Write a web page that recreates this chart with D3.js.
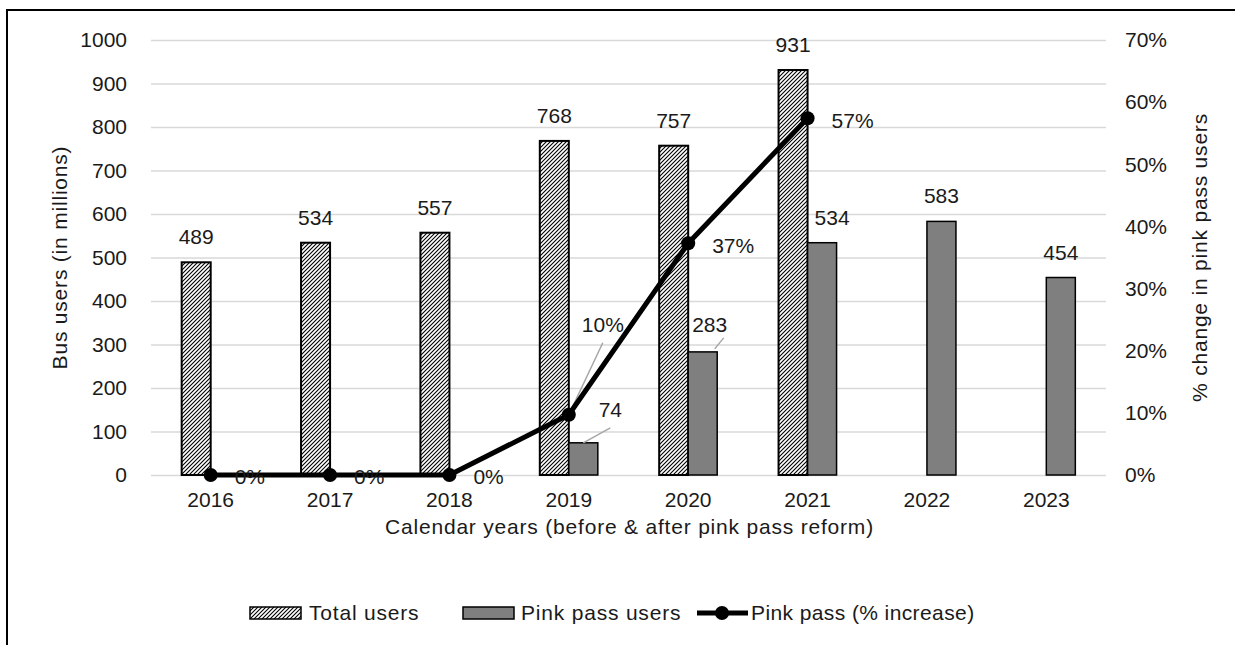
<!DOCTYPE html>
<html>
<head>
<meta charset="utf-8">
<script src="https://cdn.jsdelivr.net/npm/d3@7"></script>
<style>
  html, body { margin: 0; padding: 0; background: #fff; }
  svg { display: block; }
  text { font-family: "Liberation Sans", Arial, sans-serif; fill: #1a1a1a; }
  .wide { letter-spacing: 0.8px; }
  .semi { letter-spacing: 0.4px; }
</style>
</head>
<body>
<svg id="chart" width="1235" height="645"></svg>
<script>
// Bus ridership before and after the pink pass reform
const years = ["2016", "2017", "2018", "2019", "2020", "2021", "2022", "2023"];
const totalUsers = [489, 534, 557, 768, 757, 931, null, null];
const pinkUsers = [null, null, null, 74, 283, 534, 583, 454];
const pinkPctChange = [0, 0, 0, 0.097, 0.373, 0.574, null, null];
const leftTicks = [0, 100, 200, 300, 400, 500, 600, 700, 800, 900, 1000];
const rightTicks = [0, 0.1, 0.2, 0.3, 0.4, 0.5, 0.6, 0.7];
const seriesNames = ["Total users", "Pink pass users", "Pink pass (% increase)"];
const axisTitles = {
  x: "Calendar years (before & after pink pass reform)",
  yLeft: "Bus users (in millions)",
  yRight: "% change in pink pass users"
};

const W = 1235, H = 645;
const plot = { left: 151, right: 1106, top: 40, bottom: 475 };
const FS = 21;
const FONT = "Liberation Sans, Arial, sans-serif";

const svg = d3.select("#chart");

// outer frame (top and left edges visible)
svg.append("path")
  .attr("d", `M7,${H} L7,10 L${W},10`)
  .attr("fill", "none").attr("stroke", "#000").attr("stroke-width", 2);

// hatch pattern for total users
const defs = svg.append("defs");
const pat = defs.append("pattern")
  .attr("id", "hatch").attr("patternUnits", "userSpaceOnUse")
  .attr("width", 4).attr("height", 4);
pat.append("rect").attr("width", 4).attr("height", 4).attr("fill", "#fff");
pat.append("path")
  .attr("d", "M-1,1 L1,-1 M0,4 L4,0 M3,5 L5,3")
  .attr("stroke", "#000").attr("stroke-width", 1.1);

const x0 = d3.scaleBand().domain(years).range([plot.left, plot.right])
  .paddingInner(0.514).paddingOuter(0.257);
const x1 = d3.scaleBand().domain(["total", "pink"]).range([0, x0.bandwidth()]);
const yL = d3.scaleLinear().domain([0, 1000]).range([plot.bottom, plot.top]);
const yR = d3.scaleLinear().domain([0, 0.7]).range([plot.bottom, plot.top]);
const cx = y => x0(y) + x0.bandwidth() / 2;

function styleTicks(g) {
  g.select(".domain").remove();
  g.selectAll(".tick text").attr("font-size", FS).attr("fill", "#1a1a1a")
    .style("font-family", FONT);
}

// gridlines + left axis
const gL = svg.append("g").attr("transform", `translate(${plot.left},0)`)
  .call(d3.axisLeft(yL).tickValues(leftTicks).tickFormat(d3.format("d"))
    .tickSize(-(plot.right - plot.left)).tickPadding(24));
styleTicks(gL);
gL.selectAll(".tick line").attr("stroke", "#d9d9d9").attr("stroke-width", 1.5);

// right axis
const gR = svg.append("g").attr("transform", `translate(${plot.right},0)`)
  .call(d3.axisRight(yR).tickValues(rightTicks).tickSize(0).tickPadding(19)
    .tickFormat(d3.format(".0%")));
styleTicks(gR);

// year labels
const gX = svg.append("g").attr("transform", `translate(0,${plot.bottom})`)
  .call(d3.axisBottom(x0).tickSize(0).tickPadding(17));
styleTicks(gX);

// bars
const totalData = years.map((y, i) => ({ year: y, v: totalUsers[i] })).filter(d => d.v != null);
const pinkData = years.map((y, i) => ({ year: y, v: pinkUsers[i] })).filter(d => d.v != null);

svg.append("g").selectAll("rect").data(totalData).join("rect")
  .attr("x", d => x0(d.year) + x1("total"))
  .attr("y", d => yL(d.v))
  .attr("width", x1.bandwidth())
  .attr("height", d => yL(0) - yL(d.v))
  .attr("fill", "url(#hatch)").attr("stroke", "#000").attr("stroke-width", 2);

svg.append("g").selectAll("rect").data(pinkData).join("rect")
  .attr("x", d => x0(d.year) + x1("pink"))
  .attr("y", d => yL(d.v))
  .attr("width", x1.bandwidth())
  .attr("height", d => yL(0) - yL(d.v))
  .attr("fill", "#7f7f7f").attr("stroke", "#000").attr("stroke-width", 1.5);

// total labels above bars
svg.append("g").selectAll("text").data(totalData).join("text")
  .attr("x", d => x0(d.year) + x1("total") + x1.bandwidth() / 2)
  .attr("y", d => yL(d.v) - 18)
  .attr("text-anchor", "middle").attr("font-size", FS)
  .text(d => d.v);

// pink labels; a few are nudged aside (with leader lines)
const pinkNudge = { "2019": [27, -8], "2020": [7, -2], "2021": [10, 0] };
const pinkLabels = svg.append("g");
pinkData.forEach(d => {
  const bx = x0(d.year) + x1("pink") + x1.bandwidth() / 2;
  const by = yL(d.v);
  const n = pinkNudge[d.year] || [0, 0];
  pinkLabels.append("text")
    .attr("x", bx + n[0]).attr("y", by - 18 + n[1])
    .attr("text-anchor", "middle").attr("font-size", FS)
    .text(d.v);
});
const lead = svg.append("g").attr("stroke", "#a6a6a6").attr("stroke-width", 1.5);
{
  const bx = x0("2019") + x1("pink") + x1.bandwidth() / 2;
  const by = yL(pinkUsers[3]);
  lead.append("line").attr("x1", bx).attr("y1", by).attr("x2", bx + 27).attr("y2", by - 15);
}
{
  const bx = x0("2020") + x1("pink") + x1.bandwidth() / 2;
  const by = yL(pinkUsers[4]);
  lead.append("line").attr("x1", bx + 12).attr("y1", by - 3).attr("x2", bx + 21).attr("y2", by - 14);
}

// percentage line
const lineData = years.map((y, i) => ({ year: y, v: pinkPctChange[i] })).filter(d => d.v != null);
const pctLine = d3.line().x(d => cx(d.year)).y(d => yR(d.v));
svg.append("path").datum(lineData)
  .attr("d", pctLine).attr("fill", "none").attr("stroke", "#000").attr("stroke-width", 5)
  .attr("stroke-linejoin", "round");
svg.append("g").selectAll("circle").data(lineData).join("circle")
  .attr("cx", d => cx(d.year)).attr("cy", d => yR(d.v)).attr("r", 7).attr("fill", "#000");

// percentage labels to the right of each point; 2019 is lifted with a leader
const fmtPct = d3.format(".0%");
svg.append("g").selectAll("text").data(lineData).join("text")
  .attr("x", d => d.year === "2019" ? cx(d.year) + 34 : cx(d.year) + 24)
  .attr("y", d => d.year === "2019" ? yR(d.v) - 90 : yR(d.v) + 2)
  .attr("dy", "0.35em").attr("font-size", FS)
  .attr("text-anchor", d => d.year === "2019" ? "middle" : "start")
  .text(d => fmtPct(d.v));
{
  const px = cx("2019"), py = yR(pinkPctChange[3]);
  lead.append("line").attr("x1", px).attr("y1", py).attr("x2", px + 34).attr("y2", py - 72);
}

// axis titles
svg.append("text").attr("class", "wide")
  .attr("x", (plot.left + plot.right) / 2 + 1).attr("y", 534)
  .attr("text-anchor", "middle").attr("font-size", FS)
  .text(axisTitles.x);
svg.append("text").attr("class", "wide")
  .attr("transform", `translate(67,${(plot.top + plot.bottom) / 2}) rotate(-90)`)
  .attr("text-anchor", "middle").attr("font-size", FS)
  .text(axisTitles.yLeft);
svg.append("text").attr("class", "wide")
  .attr("transform", `translate(1192,${(plot.top + plot.bottom) / 2}) rotate(-90)`)
  .attr("text-anchor", "middle").attr("dy", "0.7em").attr("font-size", FS)
  .text(axisTitles.yRight);

// legend
const lg = svg.append("g").attr("transform", "translate(0,613)");
lg.append("rect").attr("x", 250).attr("y", -6).attr("width", 51).attr("height", 12)
  .attr("fill", "url(#hatch)").attr("stroke", "#000").attr("stroke-width", 1.5);
lg.append("text").attr("class", "wide").attr("x", 309).attr("y", 0).attr("dy", "0.35em")
  .attr("font-size", FS).text(seriesNames[0]);
lg.append("rect").attr("x", 463).attr("y", -6).attr("width", 51).attr("height", 12)
  .attr("fill", "#7f7f7f").attr("stroke", "#000").attr("stroke-width", 1.5);
lg.append("text").attr("class", "wide").attr("x", 521).attr("y", 0).attr("dy", "0.35em")
  .attr("font-size", FS).text(seriesNames[1]);
lg.append("line").attr("x1", 697).attr("x2", 748).attr("y1", 0).attr("y2", 0)
  .attr("stroke", "#000").attr("stroke-width", 5);
lg.append("circle").attr("cx", 722).attr("cy", 0).attr("r", 7).attr("fill", "#000");
lg.append("text").attr("class", "semi").attr("x", 751).attr("y", 0).attr("dy", "0.35em")
  .attr("font-size", FS).text(seriesNames[2]);
</script>
</body>
</html>
